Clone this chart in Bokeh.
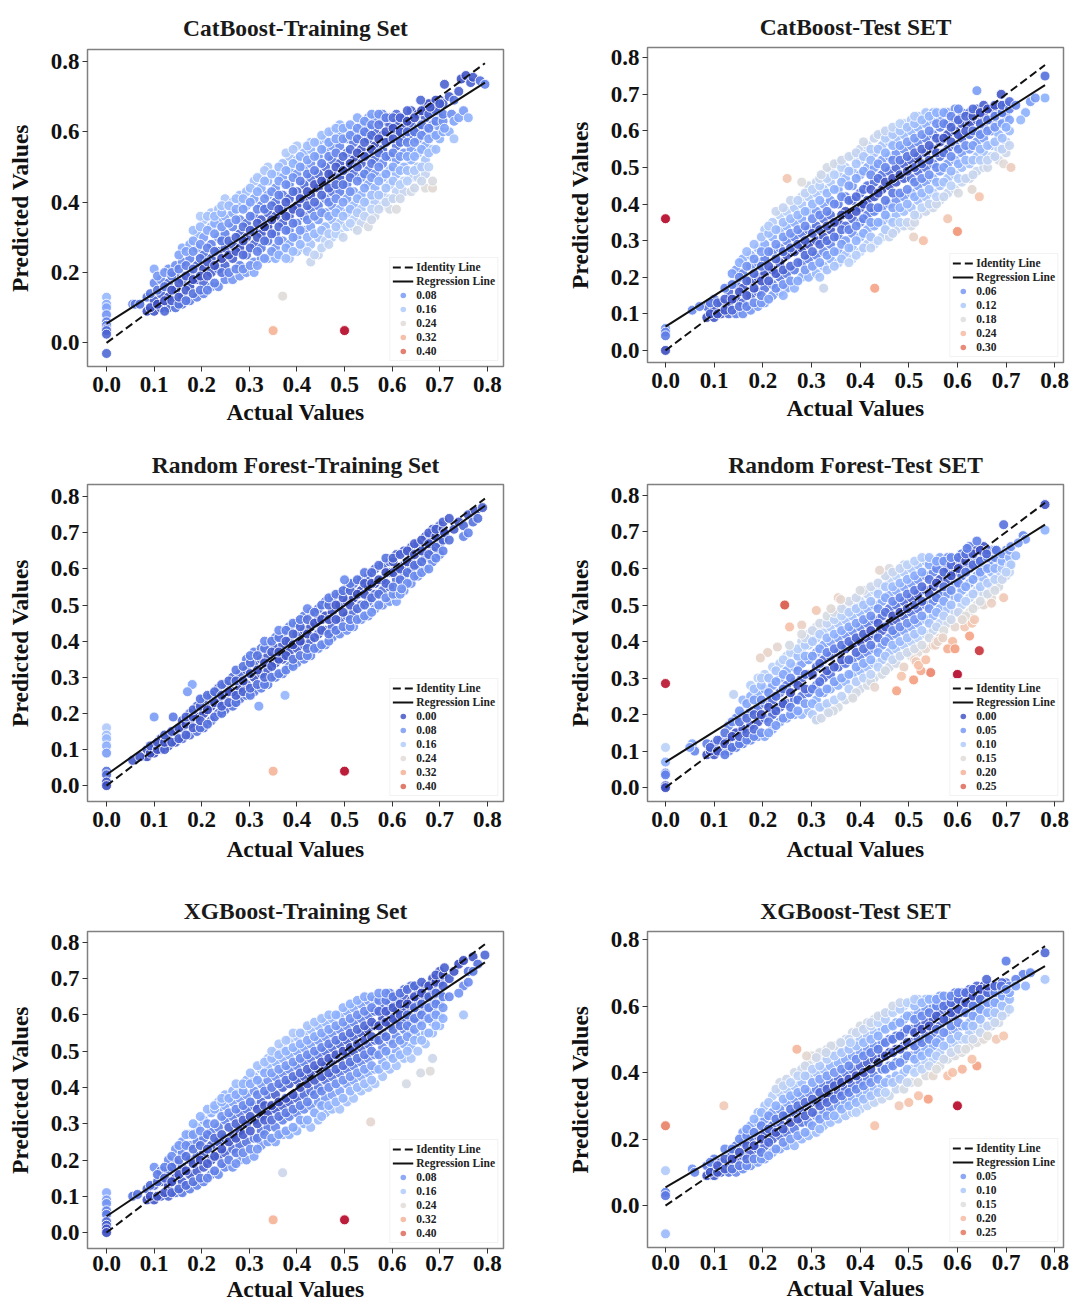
from bokeh.plotting import figure
from bokeh.layouts import column, row
from bokeh.models import Legend, LegendItem, FixedTicker, Range1d, ColumnDataSource, NumeralTickFormatter
from bokeh.embed import file_html
from bokeh.resources import INLINE
import numpy as np

# actual-value grids (thousandths) shared by the dense cloud columns
grid = [85,100,114,130,145,159,175,190,204,220,235,249,265,280,294,310,325,339,355,370,384,400,415,429,445,460,474,490,505,519,535,550,564,580,595,609,625,640,654,670,685,700]
grid2 = [92,107,122,137,152,167,182,197,212,227,242,257,272,287,302,317,332,347,362,377,392,407,422,437,452,467,482,497,512,527,542,557,572,587,602,617,632,647,662,677,692,707]

# predicted values (hundredths)
cat_train = [[9,13],[9,12,17,21],[10,14,18],[10,13,17,21],[10,15,19,22],[11,13,18,23,27],[12,16,20,24,28],[13,18,22,27,31],[14,17,21,25,30,35],[16,20,24,28,33,37],[16,21,26,30,35,38],[18,22,27,31,36,41],[18,24,28,33,37,40],[19,22,27,31,35,40,42],[20,25,30,34,39,43],[20,23,28,32,36,41,46],[24,27,31,35,39,44,47],[24,29,33,37,42,46,50],[24,27,31,36,40,44,48],[25,29,34,38,42,47,51],[24,28,32,36,41,45,49,53],[26,30,34,39,43,48,52,56],[27,32,36,41,45,50,54],[23,28,33,38,42,47,51,55,57],[25,30,35,39,44,48,53,57],[29,33,37,41,46,50,55,58],[30,35,39,43,48,52,56,60],[31,34,38,43,47,51,56,60,62],[33,37,41,45,49,54,58,61],[33,35,39,43,48,52,57,60],[34,38,42,47,51,55,59,62],[33,36,40,45,49,53,58,61,64],[36,40,44,48,52,56,60,64],[39,42,47,51,55,59,63,65],[38,41,45,49,53,58,62,64],[38,43,48,52,56,60,63,65],[43,46,50,54,58,61,64],[43,47,52,55,59,62,66],[47,50,54,58,61,65],[44,48,52,56,60,64,67],[44,46,55,59,62,66,68],[58,61,64,67,69]]
cat_train2 = [[10,14],[11,15,19],[9,12,16,20],[12,15,19,20],[11,13,17,21,25],[12,15,19,22,26],[14,18,21,26,29,32],[15,19,24,28,33,36],[15,19,23,27,32,36],[17,22,26,31,34,36],[20,24,29,33,37,39],[20,25,29,34,39],[21,26,30,35,38,41],[21,25,29,33,38,41],[22,27,32,36,40,44],[22,26,30,34,38,43,47],[24,29,33,38,41,46,49],[26,31,35,39,43,48],[25,29,33,38,42,46,50],[24,27,32,36,40,45,49,54],[26,30,34,38,43,47,51,55],[28,32,37,41,46,50,53],[26,30,35,39,43,48,52,56],[25,31,36,40,45,49,53,57],[27,32,37,42,46,51,55,59],[28,31,36,40,44,48,53,57,60],[31,33,37,41,45,50,54,58,61],[30,36,40,45,49,53,58,61],[34,38,43,47,51,55,59,62],[32,37,41,46,50,54,58,61,64],[36,40,44,48,53,57,60,63],[35,38,42,47,51,55,59,62,65],[38,42,46,50,54,58,62,65],[40,44,48,53,57,60,64],[41,46,50,54,58,61,64],[41,45,49,53,57,60,64],[46,49,53,57,60,63,66],[44,49,53,57,60,64],[46,50,55,59,62,66],[50,54,58,61,65,68],[55,59,63,66,69],[60,63,65,68]]
cat_train_x = [0,0,0,0,0,0,0,0,0,0,.35,.5,.37,.055,.06,.07,.71,.72,.73,.74,.745,.755,.765,.77,.785,.795,.725,.73,.74,.75,.76,.72,.73,.71,.66,.68,.70]
cat_train_y = [.13,.11,.10,.08,.06,.05,.04,.035,.025,-.03,.035,.035,.133,.11,.11,.11,.735,.70,.69,.715,.75,.76,.74,.755,.745,.735,.65,.63,.64,.66,.64,.60,.58,.61,.69,.67,.68]

cat_test = [[9,12],[9,11,14],[10,13],[10,12,16],[10,14,18,22],[10,13,17,21,25],[11,15,19,23,26],[12,16,20,24,28],[13,17,21,25,29,33],[15,18,22,27,31,35],[16,20,24,28,33,37],[17,21,26,30,34,38],[17,22,27,31,35,39],[20,24,28,32,36,40,42],[20,25,29,33,38,42,45],[21,26,30,34,38,43,46],[17,23,27,31,36,40,44,48],[25,29,33,37,41,46,49],[24,27,31,35,40,44,48,51],[26,30,34,38,42,47,50],[25,28,32,36,41,45,49,53],[27,31,35,39,43,48,52,55],[29,33,37,41,45,50,54,56],[29,34,38,42,46,50,54,58],[31,35,39,44,48,52,56,59],[31,36,40,45,49,53,57,58],[33,37,41,46,50,54,58,60],[34,38,42,47,51,55,59,62],[34,39,43,47,52,56,60,63],[37,41,45,49,53,57,61,64],[38,42,46,50,54,58,62,65],[39,43,47,51,55,59,63,65],[41,45,49,53,57,61,64],[43,47,51,55,59,62,65],[44,48,52,56,60,63,66],[46,50,54,58,62,65],[47,51,55,59,62,65],[49,53,57,60,63,66],[50,54,58,61,64,67],[53,56,60,63,66],[52,55,59,62,65,67],[54,57,61,64,67]]
cat_test2 = [[10,13],[10,13],[11,14,17],[11,14,18,21],[12,16,20,24],[12,15,19,23,27],[13,17,21,25,29],[13,15,19,23,27,31],[14,19,23,27,32,34],[17,21,25,29,33,38],[15,18,22,27,31,35,39],[19,23,28,32,36,41],[19,24,29,33,37,41],[22,26,30,34,38,43],[23,27,32,36,40,44],[20,24,29,33,37,41,45,47],[22,26,30,34,38,43,47,50],[23,27,31,35,40,44,48,51],[25,29,33,37,42,46,50,52],[24,28,33,37,41,45,49,53],[26,30,34,38,42,47,51,54],[28,32,36,40,44,49,53,57],[28,31,35,39,44,48,52,55],[30,35,39,43,47,51,55,59],[33,37,41,46,50,54,58,60],[32,35,39,43,47,52,56,59,61],[35,39,43,48,52,56,60,62],[35,40,44,49,53,57,61],[35,37,42,46,50,54,58,62,64],[39,43,47,51,55,59,63],[40,44,48,52,56,60,64],[40,42,46,50,54,58,62,65],[42,46,50,54,58,62,65],[45,49,53,57,61,64],[43,47,51,55,59,63,66],[47,52,56,60,64],[48,52,56,60,64,66],[52,55,59,62,65],[50,52,56,60,63,66],[53,57,61,64,67],[55,58,62,65,67],[56,60,63,66,68]]
cat_test_x = [0,0,0,0,0,.6,.43,.53,.51,.25,.32,.28,.63,.645,.695,.71,.58,.78,.78,.64,.69,.72,.74,.75,.73,.70,.76,.055,.07]
cat_test_y = [.36,.06,.05,.04,0,.325,.17,.30,.31,.47,.48,.46,.44,.42,.51,.50,.36,.75,.69,.71,.70,.67,.65,.68,.63,.61,.69,.11,.12]

rf_train = [[8,10],[9,11],[10,13],[11,14],[12,15],[13,16,18],[14,17,20],[15,19,22],[16,20,24],[18,22,25],[20,23,27],[21,25,28],[22,26,30],[24,27,31],[25,28,32,35],[26,30,34,37],[27,31,35,38],[28,32,36,39],[30,34,38,41],[31,35,39,42],[33,37,40,44],[34,38,42,45],[35,39,43,47],[36,40,44,48],[38,42,46,49],[39,43,47,51],[41,44,48,52],[42,46,50,53],[43,47,51,55],[44,48,52,56],[46,50,54,57],[47,51,55,58],[49,53,56,60],[50,54,57,61],[51,55,59,62],[51,53,57,60,64],[54,58,61,65],[56,60,63,66],[58,61,65,67],[60,63,66,69],[62,65,68,71],[64,67,70,72]]
rf_train2 = [[9,11],[10,12],[10,12,14],[12,15],[13,16],[14,17,19],[16,19,21],[16,18,22,24],[17,21,25],[19,23,26],[20,22,25,28],[23,26,29],[23,25,29,32],[26,29,33],[25,27,31,34,36],[28,32,36],[28,30,34,38,40],[30,33,37,40],[31,35,37,41,43],[32,36,40,43],[33,35,39,42,45],[36,40,44,46],[36,38,42,46,49],[38,41,45,48],[39,43,46,50],[40,42,46,50,52],[43,46,50,53],[44,48,52,54],[44,46,50,54,56],[46,49,53,57],[47,50,53,56,59],[48,52,56,59],[50,53,57,61],[52,56,59,63],[53,55,59,62,63],[53,57,60,64],[56,59,62,65],[58,61,64,67],[59,62,65,68],[60,64,67,70],[63,66,69,71],[65,68,71,73]]
rf_train_x = [0,0,0,0,0,0,0,0,0,.1,.14,.35,.5,.055,.07,.375,.32,.71,.72,.73,.74,.75,.76,.77,.775,.78,.79,.75,.72,.76,.5,.18,.17,.62]
rf_train_y = [.16,.14,.13,.11,.09,.04,.03,.01,0,.19,.19,.04,.04,.07,.08,.25,.22,.70,.68,.71,.73,.72,.75,.73,.76,.74,.77,.69,.74,.70,.57,.28,.26,.545]

rf_test = [[9,12],[9,12],[10,13],[10,13,17],[11,15,19],[12,16,20,24],[13,17,21,25,28],[14,18,22,26,30],[14,19,23,27,31],[16,20,24,28,33],[18,22,26,30,34],[19,23,28,32,36],[20,24,29,33,37],[20,25,30,34,38,40],[21,26,31,35,39,42],[19,24,28,33,37,41,44],[22,26,30,35,39,43,45],[21,27,31,36,40,44,46],[22,28,33,37,41,45,48],[24,29,34,38,42,46,49],[25,31,35,39,43,47,50],[27,32,36,40,44,48,51],[28,33,37,41,45,49,53],[30,34,38,42,46,50,54],[31,35,39,43,47,51,55],[33,37,41,45,49,53,57,60],[34,38,42,46,50,54,58],[33,39,43,47,51,55,59,61],[36,40,44,48,52,56,60],[37,41,45,49,53,57,61],[38,42,46,50,54,58,62],[39,43,47,51,55,59,62],[41,45,49,53,57,61,63],[45,49,53,57,60,63],[44,48,52,56,59,62],[46,50,54,58,61,64],[48,52,56,60,63,66],[50,54,58,62,65],[50,53,57,60,63,66],[52,55,59,62,65],[55,58,61,64],[58,60,63,65]]
rf_test2 = [[10,11],[10,13],[9,12,15],[11,14,18],[12,14,18,21],[13,15,19,23],[14,16,20,24,27],[15,20,24,28,30],[15,18,22,26,30],[17,21,25,29,32],[19,23,27,31,35],[20,22,26,30,34,37],[21,24,28,32,36,38],[23,27,31,36,39,41],[20,23,27,31,36,40,43],[22,26,29,34,38,42,45],[23,27,32,37,41,45,47],[24,29,33,38,42,46,48],[25,30,35,39,43,47,49],[27,31,35,40,44,48,51],[26,29,33,37,41,45,49,52],[30,34,38,42,46,50,54],[29,31,35,39,43,47,51,55],[33,37,41,45,49,53,56],[32,36,40,44,48,52,55,58],[35,39,43,47,51,55,59],[36,40,44,48,52,56,60],[37,41,45,49,53,57,61],[35,38,42,46,50,54,58,62],[39,43,47,51,55,59,63],[41,45,49,53,57,61,63],[40,44,48,52,56,60,62],[43,47,51,55,59,62],[46,50,54,58,61,63],[48,52,56,60,63],[47,51,55,59,62,64],[49,53,57,61,64],[51,55,59,62,65],[53,56,60,63,65],[54,57,60,63,65],[57,60,62,64],[59,61,63,65]]
rf_test_x = [0,0,0,0,0,0,0,.245,.255,.28,.28,.31,.34,.355,.36,.44,.40,.23,.21,.195,.255,.6,.645,.625,.615,.63,.635,.61,.59,.58,.595,.545,.525,.51,.485,.475,.43,.385,.515,.52,.535,.555,.56,.57,.67,.695,.78,.78,.695,.735,.72,.74,.71,.725,.64,.62,.66,.68,.71,.70,.055,.06,.05,.14,.31,.32,.345,.335]
rf_test_y = [.285,.11,.07,.04,.035,.005,0,.50,.44,.445,.42,.485,.49,.52,.515,.595,.54,.385,.37,.355,.39,.31,.375,.415,.44,.45,.46,.46,.40,.38,.38,.315,.32,.295,.305,.265,.275,.245,.345,.335,.35,.39,.40,.41,.505,.52,.775,.705,.72,.69,.635,.68,.66,.67,.675,.655,.64,.65,.61,.59,.12,.10,.11,.255,.185,.19,.21,.205]

xg_train = [[9,12],[9,13,18],[10,14,17],[10,13,17,20],[11,15,19,23],[11,14,18,22,25],[12,16,20,24,27],[13,17,21,25,29],[14,18,22,26,31],[16,20,24,28,33],[16,21,25,29,34,36],[18,22,26,31,35,38],[18,23,27,32,36,39],[20,24,28,33,37,40],[20,25,30,34,38,42],[21,26,31,35,39,43],[24,28,32,36,41,45],[25,29,33,38,42,46,48],[25,29,34,38,43,47,50],[27,31,35,40,44,48,51],[27,32,36,41,45,49,53],[28,33,37,42,46,50,54],[30,34,38,43,47,51,55],[29,35,39,44,48,52,56],[31,36,40,45,49,53,57],[33,37,42,46,50,54,58],[34,38,43,47,51,55,59],[34,39,44,48,52,56,60],[36,41,45,49,53,57,61],[37,42,46,50,54,58,62],[39,43,47,51,55,59,63],[40,44,48,52,56,60,64],[41,45,49,53,57,61,64],[43,47,51,55,59,62,65],[45,49,53,57,60,63,66],[46,50,54,58,61,64],[48,52,56,59,62,65,67],[48,51,55,58,61,64,68],[50,54,58,61,64,67],[52,55,59,62,65,68],[55,58,61,64,67,70],[57,60,63,66,69,72]]
xg_train2 = [[10,13],[10,14,16],[11,15,18],[11,14,18,21],[12,16,20,24],[13,17,21,24,27],[14,19,23,27,30],[15,20,24,28,32],[15,19,23,27,30,34],[17,21,26,30,34,35],[19,23,27,32,36,37],[20,25,29,33,37],[19,22,26,30,34,38,41],[22,27,31,35,39,41],[23,28,32,36,41,44],[23,26,30,34,38,42,46],[27,31,35,39,44,47],[26,31,35,40,44,48,50],[27,32,36,41,45,49,52],[28,33,37,42,46,50,53],[29,34,38,43,47,51,55],[31,35,40,44,48,52,55],[31,36,41,45,49,53,57],[33,38,42,46,50,54,58],[32,35,39,43,47,51,55,59],[35,40,44,48,52,56,60],[36,41,45,49,53,57,60],[37,42,46,50,54,58,62],[39,43,47,51,55,59,63],[40,44,48,52,56,60,64],[41,45,49,53,57,61,65],[42,46,50,54,58,62,65],[45,49,53,57,61,64,66],[46,50,54,58,61,64,66],[48,52,56,59,62,65],[49,53,57,60,63,66],[50,54,57,60,63,67],[53,56,59,62,65,68],[53,57,60,63,66,69],[55,59,62,65,68],[57,60,63,66,69,71],[59,62,65,68,71]]
xg_train_x = [0,0,0,0,0,0,0,0,0,.35,.5,.37,.555,.66,.68,.685,.63,.71,.72,.73,.74,.75,.76,.77,.78,.795,.77,.75,.74,.76,.72,.75,.055,.065]
xg_train_y = [.11,.09,.08,.06,.05,.03,.02,.01,0,.035,.035,.165,.305,.44,.445,.48,.41,.73,.70,.72,.74,.75,.72,.76,.74,.765,.72,.68,.66,.69,.65,.60,.10,.105]

xg_test = [[9,12],[9,11,14],[10,13],[10,13,16],[10,14,18],[11,15,19,22],[12,16,20,24],[13,17,21,25,28],[14,18,22,26,30],[16,20,24,28,33],[17,21,25,29,34,37],[18,22,27,31,35,38],[18,23,28,32,36,40],[20,25,29,33,37,41],[21,25,30,34,39,43],[22,27,31,35,40,44],[24,28,32,36,41,45],[25,29,33,37,42,46],[26,30,34,38,43,47],[27,31,35,40,44,48,50],[28,32,36,41,45,49,52],[29,33,37,42,46,50,54],[30,34,38,43,47,51,55],[31,35,39,44,48,52,56],[32,36,41,45,49,53,57],[33,38,42,46,50,54,58],[35,39,43,47,51,55,59],[35,40,44,48,52,56,60],[37,41,45,49,53,57,61],[37,42,46,50,54,58,62],[39,43,47,51,55,59,62],[39,44,48,52,56,60,62],[42,46,50,54,58,61,63],[44,48,52,56,59,62],[45,49,53,57,60,63,64],[46,50,54,58,61,64],[48,52,55,59,62,65],[49,53,57,60,63,66],[50,54,58,61,64,66],[54,57,60,63,66],[55,58,61,64,66],[58,60,63,65,67]]
xg_test2 = [[10,13],[10,12],[11,14,17],[11,14,17],[12,16,20],[12,14,18,21,23],[14,18,22,26],[14,16,20,24,28],[15,19,23,27,31],[17,22,26,30,35],[19,23,27,32,36],[20,25,29,33,37],[21,26,30,34,39],[22,27,31,35,39,42],[24,28,32,37,41,45],[23,26,30,34,38,42,46],[27,31,35,39,44,47],[27,32,36,40,45,48],[29,33,37,41,46,49],[30,34,38,42,47,50],[28,31,35,39,44,48,52],[32,36,40,45,49,53],[33,37,41,46,50,54,55],[34,38,43,47,51,55,57],[34,37,41,45,49,53,56,58],[37,42,46,50,54,58,60],[38,43,47,51,55,59,61],[37,41,45,49,53,57,61],[40,44,48,52,56,60,62],[41,45,49,53,57,61],[42,46,50,54,58,62],[41,45,49,53,57,60,62],[44,48,52,56,60,63],[46,50,54,58,61,63],[47,51,55,59,62,64],[47,50,54,58,61,64],[50,54,57,60,63,65],[52,56,59,62,65],[51,54,58,61,64,66],[55,58,61,64,66],[57,60,63,65,67],[59,62,64,66]]
xg_test_x = [0,0,0,0,0,.6,.27,.29,.31,.34,.36,.38,.33,.54,.52,.50,.48,.43,.64,.63,.61,.58,.59,.68,.695,.78,.78,.70,.735,.75,.72,.66,.69,.70,.72,.74,.12,.055,.06]
xg_test_y = [.24,.105,.04,.03,-.085,.30,.47,.45,.445,.48,.49,.49,.46,.32,.33,.31,.30,.24,.42,.44,.41,.39,.40,.50,.51,.76,.68,.735,.695,.70,.68,.68,.66,.65,.66,.66,.30,.11,.10]

titles = ["CatBoost-Training Set","CatBoost-Test SET","Random Forest-Training Set","Random Forest-Test SET","XGBoost-Training Set","XGBoost-Test SET"]
legend_values = [[.08,.16,.24,.32,.40],[.06,.12,.18,.24,.30],[0,.08,.16,.24,.32,.40],[0,.05,.10,.15,.20,.25],[.08,.16,.24,.32,.40],[.05,.10,.15,.20,.25]]
y_ticks = [[0,.2,.4,.6,.8],[0,.1,.2,.3,.4,.5,.6,.7,.8],[0,.1,.2,.3,.4,.5,.6,.7,.8],[0,.1,.2,.3,.4,.5,.6,.7,.8],[0,.1,.2,.3,.4,.5,.6,.7,.8],[0,.2,.4,.6,.8]]
x_ticks = [0,.1,.2,.3,.4,.5,.6,.7,.8]
max_residual = [.465,.36,.46,.29,.465,.30]
reg_intercept = [.055,.065,.03,.07,.045,.055]
reg_end = [.74,.725,.775,.72,.745,.72]
line_end = [.795,.78,.795,.78,.795,.78]
x_limits = [(-.04,.834),(-.037,.818),(-.04,.834),(-.037,.818),(-.04,.834),(-.037,.818)]
y_limits = [(-.067,.834),(-.033,.828),(-.044,.834),(-.038,.83),(-.044,.83),(-.126,.824)]
clouds = [(cat_train,cat_train2,cat_train_x,cat_train_y),(cat_test,cat_test2,cat_test_x,cat_test_y),(rf_train,rf_train2,rf_train_x,rf_train_y),(rf_test,rf_test2,rf_test_x,rf_test_y),(xg_train,xg_train2,xg_train_x,xg_train_y),(xg_test,xg_test2,xg_test_x,xg_test_y)]

stops = np.array([[59,76,192],[98,130,234],[141,176,254],[185,208,249],[221,220,220],[245,196,172],[244,154,123],[217,88,71],[180,4,38]],float)
def coolwarm(t):
    t = np.clip(np.asarray(t,float),0,1)*8
    return ["#%02x%02x%02x"%tuple(int(round(np.interp(v,range(9),stops[:,c]))) for c in range(3)) for v in np.atleast_1d(t)]

# borders left, right, top, bottom, frame height; title standoff; x tick standoff; x label standoff; title offset
geom = [(84,57,49,74,317,14,5,4,-3),(87,9,47,78,315,12,5,4,0),(84,57,44,74,317,10,5,6,-3),(87,9,44,74,317,10,5,6,0),(84,57,56,64,317,12,2,2,-3),(87,9,56,65,316,12,2,2,0)]
SERIF = "Liberation Serif"
figs = []
for i,(cols,cols2,ex,ey) in enumerate(clouds):
    L,R,T,B,H,ts,xts,xls,tof = geom[i]
    p = figure(width=L+416+R, height=T+H+B, output_backend="svg", toolbar_location=None,
               x_range=Range1d(*x_limits[i]), y_range=Range1d(*y_limits[i]),
               min_border_left=L, min_border_right=R, min_border_top=T, min_border_bottom=B,
               x_axis_label="Actual Values", y_axis_label="Predicted Values", title=titles[i])
    p.title.align = "center"
    p.title.vertical_align = "top"
    p.title.text_font = SERIF
    p.title.text_font_size = "23.5px"
    p.title.text_font_style = "bold"
    p.title.text_color = "#1a1a1a"
    p.title.standoff = ts
    p.title.offset = tof
    p.grid.visible = False
    p.outline_line_color = "#808080"
    p.outline_line_width = 1.5
    for ax in (p.xaxis[0], p.yaxis[0]):
        ax.axis_line_color = None
        ax.major_tick_line_color = "#333333"
        ax.major_tick_line_width = 1
        ax.major_tick_out = 5
        ax.major_tick_in = 0
        ax.minor_tick_line_color = None
        ax.major_label_text_font = SERIF
        ax.major_label_text_font_size = "23px"
        ax.major_label_text_font_style = "bold"
        ax.major_label_text_color = "#111111"
        ax.axis_label_text_font = SERIF
        ax.axis_label_text_font_size = "23.5px"
        ax.axis_label_text_font_style = "bold"
        ax.axis_label_text_color = "#111111"
        ax.formatter = NumeralTickFormatter(format="0.0")
    p.xaxis[0].ticker = FixedTicker(ticks=x_ticks)
    p.xaxis[0].major_label_standoff = xts
    p.xaxis[0].axis_label_standoff = xls
    p.yaxis[0].ticker = FixedTicker(ticks=y_ticks[i])
    p.yaxis[0].major_label_orientation = "horizontal"
    p.yaxis[0].major_label_standoff = 3
    p.yaxis[0].axis_label_standoff = 15

    xs = [g/1000 for g,c in zip(grid,cols) for _ in c] + [g/1000 for g,c in zip(grid2,cols2) for _ in c] + list(ex)
    ys = [v/100 for c in cols for v in c] + [v/100 for c in cols2 for v in c] + list(ey)
    res = np.abs(np.array(xs)-np.array(ys))
    src = ColumnDataSource(dict(x=xs,y=ys,c=coolwarm(res/max_residual[i])))
    p.scatter("x","y",source=src,size=10,fill_color="c",fill_alpha=.9,line_color="white",line_width=.9)
    id_r = p.line([0,line_end[i]],[0,line_end[i]],line_color="#111111",line_width=2,line_dash="8 4")
    rg_r = p.line([0,line_end[i]],[reg_intercept[i],reg_end[i]],line_color="#111111",line_width=2)
    items = [LegendItem(label="Identity Line",renderers=[id_r]),LegendItem(label="Regression Line",renderers=[rg_r])]
    for v,c in zip(legend_values[i],coolwarm(np.array(legend_values[i])/max_residual[i])):
        r = p.scatter(x=[float("nan")],y=[float("nan")],size=7,fill_color=c,fill_alpha=.8,line_color=None)
        items.append(LegendItem(label="%.2f"%v,renderers=[r]))
    lg = Legend(items=items,location="bottom_right",margin=5,padding=2,spacing=0,
                glyph_width=21,glyph_height=14,label_height=14,label_standoff=3,
                label_text_font=SERIF,label_text_font_size="11.5px",label_text_font_style="bold",
                label_text_color="#222222",background_fill_alpha=.85,border_line_color="#e6e6e6")
    p.add_layout(lg,"center")
    figs.append(p)

rows = [row(column(figs[a]),column(figs[a+1]),spacing=0) for a in (0,2,4)]
layout = column(*rows,spacing=0,margin=(0,0,0,3))
open("out.html","w").write(file_html(layout,INLINE))
